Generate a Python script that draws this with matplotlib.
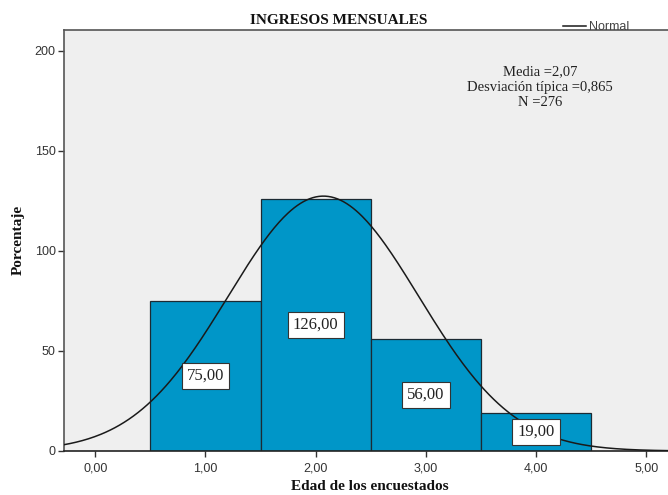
import numpy as np
import matplotlib
matplotlib.use("Agg")
import matplotlib.pyplot as plt

# data
valores = [1, 2, 3, 4]
frecuencias = [75, 126, 56, 19]
etiquetas = ["75,00", "126,00", "56,00", "19,00"]
media = 2.07
desv = 0.865
n_total = 276
xticks = [0, 1, 2, 3, 4, 5]
xtick_labels = ["0,00", "1,00", "2,00", "3,00", "4,00", "5,00"]
yticks = [0, 50, 100, 150, 200]

SERIF = "Liberation Serif"
SANS = "Liberation Sans"

fig = plt.figure(figsize=(6.68, 4.95), dpi=100)
fig.patch.set_facecolor("white")
ax = fig.add_axes([0.0958, 0.0889, 0.9042, 0.8515])
ax.set_facecolor("#efefef")

ax.bar(valores, frecuencias, width=1.0, color="#0096c8",
       edgecolor="#1c2a33", linewidth=0.9, zorder=2)

# normal curve scaled to counts (bin width 1)
xs = np.linspace(-0.3, 5.3, 400)
ys = n_total * 1.0 / (desv * np.sqrt(2 * np.pi)) * np.exp(-0.5 * ((xs - media) / desv) ** 2)
line, = ax.plot(xs, ys, color="#1a1a1a", linewidth=1.1, zorder=3)

for x, f, lab in zip(valores, frecuencias, etiquetas):
    ax.text(x, f / 2, lab, ha="center", va="center", fontsize=12,
            family=SERIF, color="#222222", zorder=4,
            bbox=dict(boxstyle="square,pad=0.3", facecolor="white",
                      edgecolor="#333333", linewidth=0.8))

ax.set_xlim(-0.284, 5.197)
ax.set_ylim(0, 210.5)
ax.set_xticks(xticks)
ax.set_xticklabels(xtick_labels)
ax.set_yticks(yticks)
ax.tick_params(axis="both", direction="out", length=4, width=1,
               color="#333333", labelsize=9, labelcolor="#333333")
ax.tick_params(axis="x", pad=4)
ax.tick_params(axis="y", pad=2)
for lbl in ax.get_xticklabels() + ax.get_yticklabels():
    lbl.set_family(SANS)

ax.spines["right"].set_visible(False)
ax.spines["left"].set_color("#555555")
ax.spines["top"].set_color("#555555")
ax.spines["bottom"].set_color("#222222")
for s in ["left", "top", "bottom"]:
    ax.spines[s].set_linewidth(1.2)

fig.text(370 / 668, 1 - 487 / 495, "Edad de los encuestados", ha="center",
         va="center", family=SERIF, fontweight="bold", fontsize=11,
         color="#111111")
fig.text(18 / 668, 1 - 240 / 495, "Porcentaje", ha="center", va="center",
         rotation=90, family=SERIF, fontweight="bold", fontsize=11,
         color="#111111")

fig.text(339 / 668, 1 - 20 / 495, "INGRESOS MENSUALES", ha="center",
         va="center", family=SERIF, fontweight="bold", fontsize=11,
         color="#111111")

fig.text(540 / 668, 1 - 87 / 495,
         "Media =2,07\nDesviación típica =0,865\nN =276",
         ha="center", va="center", family=SERIF, fontsize=10.5,
         color="#222222", linespacing=1.25)

leg = ax.legend([line], ["Normal"], loc="center left", frameon=False,
                handlelength=1.8, handletextpad=0.3,
                prop={"family": SANS, "size": 9})
leg.set_bbox_to_anchor((552 / 668, 1 - 27 / 495), transform=fig.transFigure)
for t in leg.get_texts():
    t.set_color("#444444")

fig.savefig("out.png", dpi=100)
